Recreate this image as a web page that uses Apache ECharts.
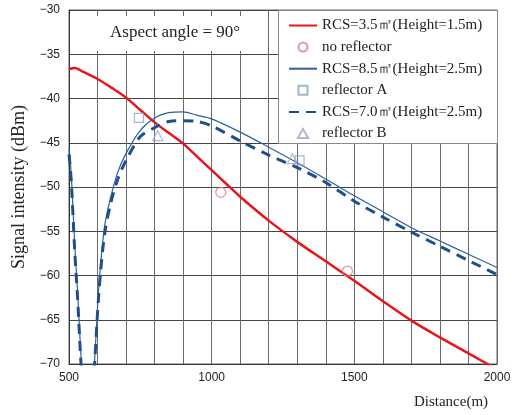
<!DOCTYPE html>
<html>
<head>
<meta charset="utf-8">
<script src="https://cdn.jsdelivr.net/npm/echarts@6/dist/echarts.min.js"></script>
<style>html,body{margin:0;padding:0;background:#fff;}#c{width:514px;height:415px;}</style>
</head>
<body>
<div id="c"></div>
<script>
// ---- data ----
const redX = [500,520,550,600,650,700,750,800,850,900,950,1000,1050,1100,1200,1300,1400,1500,1600,1700,1800,1900,2000];
const redY = [-36.7,-36.55,-37.0,-37.8,-38.8,-39.9,-41.3,-42.7,-43.9,-45.1,-46.6,-48.1,-49.6,-51.1,-53.8,-56.2,-58.4,-60.6,-62.9,-65.1,-67.0,-68.8,-70.6];

const thinX = [500,505,510,520,530,540,545,555,565,575,585,590,600,610,625,645,670,700,750,800,850,900,950,1000,1100,1200,1300,1400,1500,1600,1700,1800,1900,2000];
const thinY = [-45.7,-47.3,-49.8,-56.5,-61.8,-68.0,-70.6,-76,-95,-76,-71.2,-69.5,-63.6,-59.0,-54.4,-51.3,-48.4,-46.2,-43.6,-42.2,-41.6,-41.5,-41.9,-42.3,-43.8,-45.5,-47.25,-49.1,-51.0,-52.8,-54.6,-56.1,-57.6,-59.1];

const dashX = [500,505,510,520,530,540,545,555,565,575,585,590,600,610,625,645,670,700,750,800,850,900,950,1000,1100,1200,1300,1400,1500,1600,1700,1800,1900,2000];
const dashY = [-46.3,-48.0,-50.5,-57.2,-62.5,-68.8,-71.5,-78,-95,-78,-72,-69.8,-64.2,-59.8,-55.3,-52.0,-49.2,-47.0,-44.3,-43.3,-42.6,-42.5,-42.6,-43.1,-44.8,-46.4,-47.8,-49.5,-51.6,-53.4,-55.1,-56.7,-58.3,-59.9];

const noRefX = [1032, 1476];
const noRefY = [-50.6, -59.5];
const refAX = [745, 1308];
const refAY = [-42.2, -47.0];
const refBX = [811, 1283];
const refBY = [-44.2, -46.8];

const xTickLabels = [500, 1000, 1500, 2000];
const seriesNames = ['RCS=3.5㎡(Height=1.5m)','no reflector','RCS=8.5㎡(Height=2.5m)','reflector A','RCS=7.0㎡(Height=2.5m)','reflector B'];
const titleText = 'Aspect angle = 90°';
const xName = 'Distance(m)';
const yName = 'Signal intensity (dBm)';

const pairs = (xs, ys) => xs.map((x, i) => [x, ys[i]]);
const serif = 'Liberation Serif, Times New Roman, serif';
const sans = 'Liberation Sans, Arial, sans-serif';

const squarePath = 'path://M0,0L10,0L10,10L0,10Z';
const triPath = 'path://M5,0L10,8.66L0,8.66Z';
const clear = 'rgba(0,0,0,0)';

const chart = echarts.init(document.getElementById('c'), null, {renderer: 'canvas'});
chart.setOption({
  animation: false,
  backgroundColor: '#fff',
  grid: {left: 69, right: 17, top: 10, bottom: 48, show: true, borderColor: '#666', borderWidth: 1},
  xAxis: {
    type: 'value', min: 500, max: 2000, interval: 100,
    name: xName, nameLocation: 'middle', nameGap: 31,
    nameTextStyle: {fontFamily: serif, fontSize: 15, color: '#222', padding: [0, 0, 0, 336]},
    axisLine: {lineStyle: {color: '#333'}}, axisTick: {show: false},
    axisLabel: {fontFamily: sans, fontSize: 12, color: '#222', margin: 8, showMinLabel: true, showMaxLabel: true,
      formatter: v => (xTickLabels.indexOf(v) >= 0 ? String(v) : '')},
    splitLine: {lineStyle: {color: '#6a6a6a', width: 1}}
  },
  yAxis: {
    type: 'value', min: -70, max: -30, interval: 5,
    name: yName, nameLocation: 'middle', nameGap: 38,
    nameTextStyle: {fontFamily: serif, fontSize: 18, color: '#222'},
    axisLine: {show: true, lineStyle: {color: '#333'}}, axisTick: {show: false},
    axisLabel: {fontFamily: sans, fontSize: 12, color: '#222', margin: 9,
      formatter: v => String(v).replace('-', '\u2212')},
    splitLine: {lineStyle: {color: '#444', width: 1}}
  },
  legend: {
    orient: 'vertical', left: 283, top: 13, z: 6,
    itemWidth: 28, itemHeight: 9, itemGap: 6.6,
    textStyle: {fontFamily: serif, fontSize: 15, color: '#222', lineHeight: 15},
    data: [
      {name: seriesNames[0]},
      {name: seriesNames[1], icon: 'circle'},
      {name: seriesNames[2]},
      {name: seriesNames[3], icon: squarePath},
      {name: seriesNames[4]},
      {name: seriesNames[5], icon: triPath}
    ]
  },
  graphic: [
    {type: 'rect', left: 278, top: 10, z: 5, shape: {width: 219, height: 133},
     style: {fill: '#fff', stroke: '#8a8a8a', lineWidth: 1}},
    {type: 'rect', left: 88, top: 16, z: 5, shape: {width: 174, height: 35},
     style: {fill: '#fff'}},
    {type: 'text', left: 110, top: 24, z: 6,
     style: {text: titleText, font: '17px ' + serif, fill: '#222'}}
  ],
  series: [
    {name: seriesNames[0], type: 'line', data: pairs(redX, redY), smooth: 0.3, symbol: 'none',
     lineStyle: {color: '#e8141c', width: 2.5}, itemStyle: {color: clear, borderWidth: 0}, z: 3},
    {name: seriesNames[1], type: 'scatter', data: pairs(noRefX, noRefY), symbol: 'circle', symbolSize: 10,
     itemStyle: {color: clear, borderColor: '#e07c7c', borderWidth: 1.2}, z: 4},
    {name: seriesNames[2], type: 'line', data: pairs(thinX, thinY), smooth: 0.3, symbol: 'none',
     lineStyle: {color: '#2f5f9e', width: 1.2}, itemStyle: {color: clear, borderWidth: 0}, z: 3},
    {name: seriesNames[3], type: 'scatter', data: pairs(refAX, refAY), symbol: squarePath, symbolSize: 9,
     itemStyle: {color: clear, borderColor: '#8aa4c8', borderWidth: 1.2}, z: 4},
    {name: seriesNames[4], type: 'line', data: pairs(dashX, dashY), smooth: 0.3, symbol: 'none',
     lineStyle: {color: '#1f4f8a', width: 3, type: [10, 7]}, itemStyle: {color: clear, borderWidth: 0}, z: 3},
    {name: seriesNames[5], type: 'scatter', data: pairs(refBX, refBY), symbol: triPath, symbolSize: 10,
     itemStyle: {color: clear, borderColor: '#a8a0c4', borderWidth: 1.2}, z: 4}
  ]
});
</script>
</body>
</html>
